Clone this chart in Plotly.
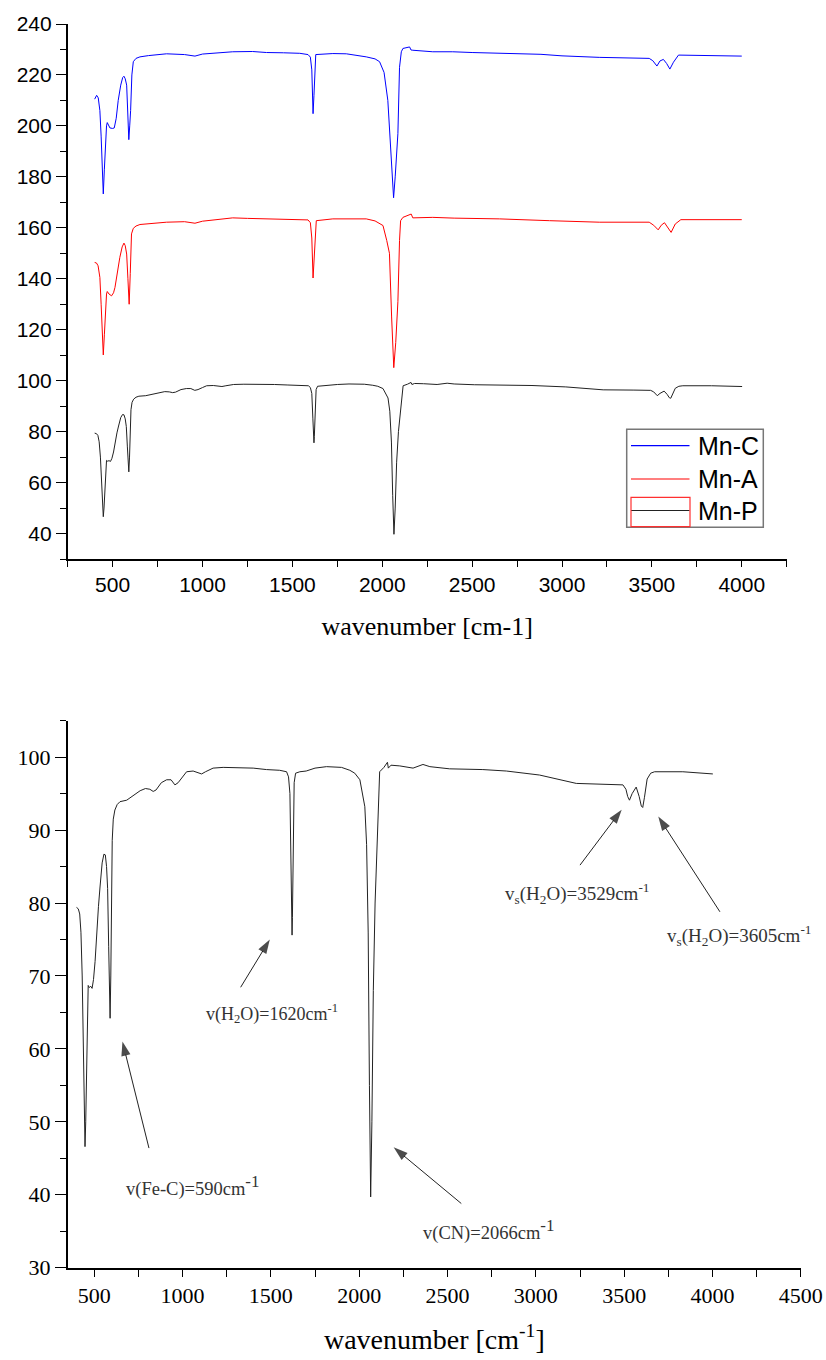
import plotly.graph_objects as go

# ---------------- data ----------------
# Mn-P spectrum (shown in both panels)
mnp_x = [400, 410, 418, 425, 432, 438, 444, 448, 452, 456, 460, 466, 472, 480, 488, 496, 505, 514, 524, 533,
         545, 555, 563, 570, 576, 582, 586, 590, 594, 598, 602, 608, 617, 630, 646, 684, 720, 760, 790, 815,
         834, 850, 880, 910, 935, 957, 975, 1000, 1023, 1060, 1090, 1108, 1130, 1173, 1230, 1300, 1400, 1475,
         1550, 1589, 1600, 1608, 1614, 1618, 1620, 1622, 1626, 1632, 1640, 1664, 1700, 1750, 1815, 1900, 1947,
         1975, 2004, 2020, 2032, 2042, 2051, 2058, 2065, 2072, 2080, 2090, 2098, 2108, 2116, 2140, 2154, 2160,
         2165, 2180, 2230, 2305, 2361, 2400, 2512, 2700, 2833, 3021, 3229, 3400, 3493, 3510, 3520, 3530, 3545,
         3568, 3585, 3597, 3605, 3615, 3630, 3650, 3672, 3832, 3900, 4002]
mnp_y = [79.4, 79.2, 78.5, 76, 70, 60, 50, 46.6, 50, 57, 64, 68.7, 68.4, 68.6, 68.3, 69.5, 72, 75.9, 79.5, 82.2,
         85.5, 86.7, 86.6, 85, 82, 74, 66, 64.2, 70, 82, 88.6, 91.5, 92.75, 93.5, 93.9, 94.1, 94.7, 95.4, 95.7, 95.6,
         95.3, 95.5, 96.5, 96.9, 96.9, 96.2, 96.5, 97.3, 98.0, 98.1, 97.9, 97.7, 98.0, 98.5, 98.6, 98.6, 98.5, 98.3,
         98.2, 98.0, 97.3, 95, 85, 77, 75.6, 78, 88, 96.5, 97.8, 98.0, 98.1, 98.5, 98.7, 98.6, 98.2,
         97.8, 96.9, 95, 93.2, 88, 75.9, 55, 39.7, 50, 68, 80, 85.9, 94, 98.0, 98.6, 99.2, 99.3,
         98.5, 98.9, 98.8, 98.5, 99.0, 98.7, 98.4, 98.3, 98.1, 97.55, 96.4, 96.3, 96.2, 95.6, 94.6, 94.1, 95,
         95.9, 94.6, 93.3, 93.1, 94.5, 97, 97.8, 98.0, 98.0, 97.9, 97.7]

# Mn-C spectrum (offset trace, top panel)
mnc_x = [400, 411, 420, 429, 436, 442, 448, 454, 460, 466, 470, 478, 485, 500, 509, 520, 531, 545, 556, 563,
         570, 578, 584, 590, 595, 600, 607, 615, 630, 652, 700, 800, 900, 958, 1000, 1100, 1168, 1279, 1356, 1450,
         1541, 1587, 1600, 1608, 1615, 1620, 1625, 1630, 1725, 1800, 1911, 1960, 1985, 2010, 2031, 2045, 2055, 2063,
         2072, 2087, 2096, 2106, 2115, 2140, 2152, 2160, 2170, 2281, 2392, 2500, 2652, 2883, 3000, 3207, 3485, 3505,
         3528, 3545, 3564, 3582, 3600, 3620, 3648, 3800, 4000]
mnc_y = [210.5, 212, 211, 206, 196, 182, 173.3, 183, 195, 200, 201.3, 199.8, 199.2, 199, 199.2, 203, 210, 216, 219, 219.5,
         218.5, 216, 205, 194.6, 200, 206, 220, 225.2, 226.5, 227.1, 227.6, 228.3, 228.0, 227.4, 228.2, 228.8, 229.1, 229.2, 228.8, 228.7,
         228.5, 228.0, 227, 222, 204.8, 212, 225, 228, 228.4, 228.3, 227.1, 226.3, 225.2, 221, 210, 195, 180, 171.8,
         180, 197, 223, 229.1, 230.4, 230.8, 231, 229.8, 229.7, 229.1, 229.1, 228.8, 228.5, 228.1, 227.5, 226.9, 226.5, 225.6,
         223.5, 225.5, 226.1, 224.5, 222.3, 225, 227.8, 227.6, 227.4]

# Mn-A spectrum (offset trace, top panel)
mna_x = [400, 410, 419, 429, 436, 442, 448, 454, 460, 466, 470, 480, 494, 505, 513, 525, 540, 553, 563, 570,
         578, 585, 592, 598, 605, 615, 630, 652, 700, 800, 900, 958, 1000, 1100, 1168, 1250, 1356, 1500, 1587, 1600,
         1608, 1615, 1620, 1626, 1633, 1725, 1911, 1960, 2004, 2025, 2040, 2052, 2064, 2075, 2087, 2096, 2102, 2115,
         2143, 2161, 2170, 2281, 2400, 2652, 2930, 3207, 3485, 3510, 3535, 3552, 3570, 3590, 3607, 3630, 3661, 4000]
mna_y = [146.4, 146.2, 145.1, 140.5, 130, 118, 110.1, 118, 130, 134, 135, 134, 133.3, 134.5, 136.6, 142, 148.4, 152.5, 154, 153,
         149.7, 140, 130, 142, 157.6, 159.8, 160.7, 161.3, 161.6, 162.2, 162.4, 161.8, 162.6, 163.3, 163.9, 163.7, 163.5, 163.4, 163.1, 162,
         156, 140.3, 147, 158, 162.8, 163.5, 163.5, 162.7, 160.9, 155, 150, 125, 105.1, 115, 131, 155, 162.8, 164.1,
         164.8, 165.4, 163.9, 164.1, 163.8, 163.5, 162.8, 162.2, 162.2, 161, 159.2, 161, 162, 160, 158.2, 161.5, 163.2, 163.2]

series_names = ["Mn-C", "Mn-A", "Mn-P"]
series_colors = ["#0000ff", "#ff0000", "#222222"]

# annotations of bottom panel: label, text anchor (x, y), arrow head (x, y), arrow tail (x, y)
big_sup = "<sup><span style='font-size:17px'>-1</span></sup>"
ann_labels = ["v(Fe-C)=590cm" + big_sup,
              "v(H<sub>2</sub>O)=1620cm<sup>-1</sup>",
              "v(CN)=2066cm" + big_sup,
              "v<sub>s</sub>(H<sub>2</sub>O)=3529cm<sup>-1</sup>",
              "v<sub>s</sub>(H<sub>2</sub>O)=3605cm<sup>-1</sup>"]
ann_sizes = [18.5, 18, 18.5, 19, 19]
ann_text_x = [667, 1120, 2350, 2815, 3731]
ann_text_y = [41.2, 64.8, 35.2, 81.35, 75.6]
ann_head_x = [660, 1494, 2195, 3486, 3693]
ann_head_y = [61.0, 75.0, 46.5, 92.8, 91.85]
ann_tail_x = [810, 1329, 2578, 3250, 4042]
ann_tail_y = [46.4, 68.45, 38.8, 85.2, 78.8]

# ---------------- figure ----------------
W, H = 826, 1360
fig = go.Figure()

for name, color, xs, ys in zip(series_names, series_colors,
                               [mnc_x, mna_x, mnp_x], [mnc_y, mna_y, mnp_y]):
    fig.add_trace(go.Scatter(x=xs, y=ys, mode="lines", name=name,
                             line=dict(color=color, width=1), showlegend=False,
                             xaxis="x", yaxis="y"))

fig.add_trace(go.Scatter(x=mnp_x, y=mnp_y, mode="lines", name="Mn-P",
                         line=dict(color="#222222", width=1), showlegend=False,
                         xaxis="x2", yaxis="y2"))

# arrows (shaft + head) for the bottom-panel labels
for hx, hy, ax, ay in zip(ann_head_x, ann_head_y, ann_tail_x, ann_tail_y):
    fig.add_trace(go.Scatter(x=[ax, hx], y=[ay, hy], mode="lines+markers", showlegend=False,
                             hoverinfo="skip",
                             line=dict(color="#222222", width=1),
                             marker=dict(symbol=["circle", "arrow"], size=[0, 15], color="#000000",
                                         angleref="previous", line=dict(width=0)),
                             xaxis="x2", yaxis="y2"))


def px2x(p):
    return p / W


def px2y(p):
    return 1 - p / H


axis_common = dict(showline=True, linecolor="black", linewidth=1.6, showgrid=False, zeroline=False,
                   ticks="outside", tickcolor="black", tickwidth=1.4, automargin=False)

fig.update_layout(
    width=W, height=H,
    margin=dict(l=0, r=0, t=0, b=0),
    paper_bgcolor="white", plot_bgcolor="white",
    showlegend=False,
    xaxis=dict(domain=[px2x(67.7), px2x(786.7)], range=[250, 4250], anchor="y",
               tick0=0, dtick=500, ticklen=6,
               minor=dict(dtick=250, ticks="outside", ticklen=6, tickcolor="black", tickwidth=1.4),
               tickfont=dict(family="Liberation Sans, Arial", size=21, color="black"),
               title=dict(text="wavenumber [cm-1]", standoff=22,
                          font=dict(family="Liberation Serif, Times New Roman", size=26, color="black")),
               **axis_common),
    yaxis=dict(domain=[px2y(559), px2y(24)], range=[30, 240], anchor="x",
               tick0=0, dtick=20, ticklen=10,
               minor=dict(dtick=10, ticks="outside", ticklen=6, tickcolor="black", tickwidth=1.4),
               tickfont=dict(family="Liberation Sans, Arial", size=21, color="black"),
               **axis_common),
    xaxis2=dict(domain=[px2x(67.7), px2x(801)], range=[350, 4501], anchor="y2",
                tick0=0, dtick=500, ticklen=7,
                minor=dict(dtick=250, ticks="outside", ticklen=7, tickcolor="black", tickwidth=1.4),
                tickfont=dict(family="Liberation Serif, Times New Roman", size=22, color="black"),
                title=dict(text="wavenumber [cm<sup>-1</sup>]", standoff=22,
                           font=dict(family="Liberation Serif, Times New Roman", size=28, color="black")),
                **axis_common),
    yaxis2=dict(domain=[px2y(1267.7), px2y(720.7)], range=[30, 105], anchor="x2",
                tick0=0, dtick=10, ticklen=11,
                minor=dict(dtick=5, ticks="outside", ticklen=6, tickcolor="black", tickwidth=1.4),
                tickfont=dict(family="Liberation Serif, Times New Roman", size=22, color="black"),
                **axis_common),
)

# ---- hand-drawn legend of the top panel (box, line samples, labels) ----
fig.add_shape(type="rect", xref="paper", yref="paper",
              x0=px2x(626.7), x1=px2x(763.3), y0=px2y(527.3), y1=px2y(429.3),
              line=dict(color="#777777", width=1.5), fillcolor="rgba(0,0,0,0)", layer="above")
legend_rows_y = [445.7, 479.0, 510.5]
for name, color, ry in zip(series_names, series_colors, legend_rows_y):
    fig.add_shape(type="line", xref="paper", yref="paper",
                  x0=px2x(631), x1=px2x(689.5), y0=px2y(ry), y1=px2y(ry),
                  line=dict(color=color, width=1.2), layer="above")
    fig.add_annotation(x=px2x(696), y=px2y(ry), xref="paper", yref="paper", text=name,
                       showarrow=False, xanchor="left", yanchor="middle",
                       font=dict(family="Liberation Sans, Arial", size=25, color="black"))
# red frame artefact around Mn-P legend symbol
fig.add_shape(type="rect", xref="paper", yref="paper",
              x0=px2x(631), x1=px2x(690), y0=px2y(526.7), y1=px2y(497.3),
              line=dict(color="#ff3030", width=1.2), layer="above")

for lab, sz, tx, ty in zip(ann_labels, ann_sizes, ann_text_x, ann_text_y):
    fig.add_annotation(x=tx, y=ty, xref="x2", yref="y2", text=lab, showarrow=False,
                       xanchor="left", yanchor="middle",
                       font=dict(family="Liberation Serif, Times New Roman", size=sz, color="#333333"))

fig.write_html("out.html")
